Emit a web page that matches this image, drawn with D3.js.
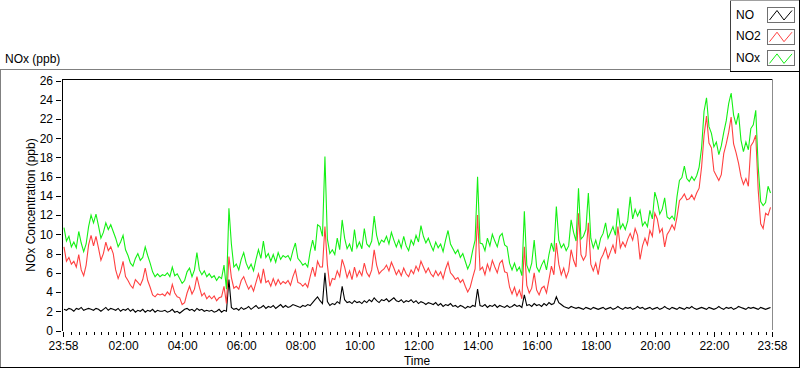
<!DOCTYPE html>
<html>
<head>
<meta charset="utf-8">
<script src="https://cdn.jsdelivr.net/npm/d3@7"></script>
<style>
  body { margin: 0; background: #fff; }
  svg { display: block; font-family: "Liberation Sans", Arial, sans-serif; font-size: 12px; }
</style>
</head>
<body>
<svg id="chart" width="800" height="369"></svg>
<script>
// time axis: one day of 5 minute samples
var startTime = "2020-01-01T23:58:00Z";
var endTime = "2020-01-02T23:58:00Z";
var stepMinutes = 5;

var seriesNames = ["NO", "NO2", "NOx"];
var seriesColors = ["#000000", "#ff4040", "#14f014"];

var yTicks = [0, 2, 4, 6, 8, 10, 12, 14, 16, 18, 20, 22, 24, 26];
var xTickTimes = ["2020-01-01T23:58:00Z", "2020-01-02T02:00:00Z", "2020-01-02T04:00:00Z",
                  "2020-01-02T06:00:00Z", "2020-01-02T08:00:00Z", "2020-01-02T10:00:00Z",
                  "2020-01-02T12:00:00Z", "2020-01-02T14:00:00Z", "2020-01-02T16:00:00Z",
                  "2020-01-02T18:00:00Z", "2020-01-02T20:00:00Z", "2020-01-02T22:00:00Z",
                  "2020-01-02T23:58:00Z"];
var xTickLabels = ["23:58", "02:00", "04:00", "06:00", "08:00", "10:00", "12:00",
                   "14:00", "16:00", "18:00", "20:00", "22:00", "23:58"];

var noValues = [
  2.2, 2.1, 2.3, 2.2, 2.0, 2.3, 2.2, 2.4, 2.1, 2.2,
  2.3, 2.2, 2.1, 2.3, 2.2, 2.0, 2.2, 2.4, 2.1, 2.3,
  2.2, 2.1, 2.3, 2.0, 2.2, 2.1, 2.3, 2.0, 2.2, 1.9,
  2.1, 2.0, 2.2, 1.9, 2.1, 2.0, 2.2, 1.9, 2.1, 2.0,
  2.0, 2.1, 1.9, 2.0, 2.2, 1.9, 2.0, 1.8, 2.0, 2.2,
  2.3, 2.1, 2.2, 2.0, 2.3, 2.1, 2.2, 2.0, 2.1, 2.0,
  2.1, 1.9, 2.0, 2.2, 1.9, 2.1, 2.0, 5.3, 2.4, 2.2,
  2.3, 2.1, 2.4, 2.2, 2.3, 2.5, 2.2, 2.4, 2.6, 2.3,
  2.4, 2.6, 2.3, 2.5, 2.4, 2.6, 2.3, 2.5, 2.7, 2.4,
  2.6, 2.4, 2.5, 2.7, 2.6, 2.5, 2.4, 2.6, 2.5, 2.7,
  2.6, 2.9, 3.2, 3.5, 3.1, 2.8, 6.0, 3.0, 2.6, 2.8,
  2.7, 3.0, 2.8, 4.6, 3.2, 2.9, 3.0, 2.8, 3.1, 2.9,
  3.0, 2.8, 3.1, 2.9, 3.2, 3.0, 3.4, 3.1, 2.9, 3.2,
  3.1, 3.3, 3.0, 3.2, 3.4, 3.1, 3.0, 3.2, 2.9, 3.1,
  3.0, 3.2, 2.9, 3.1, 2.8, 3.0, 2.9, 2.7, 2.9, 2.8,
  2.7, 2.9, 2.6, 2.8, 2.5, 2.7, 2.6, 2.8, 2.5, 2.6,
  2.4, 2.6, 2.5, 2.3, 2.5, 2.4, 2.6, 2.5, 4.3, 2.6,
  2.5, 2.7, 2.4, 2.6, 2.5, 2.7, 2.4, 2.6, 2.5, 2.4,
  2.6, 2.4, 2.5, 2.7, 2.5, 2.6, 2.4, 3.7, 2.6, 2.7,
  2.5, 2.8, 2.6, 2.7, 2.5, 2.8, 2.6, 2.9, 2.7, 2.8,
  3.5, 2.9, 2.7, 2.5, 2.4, 2.3, 2.5, 2.4, 2.3, 2.4,
  2.3, 2.2, 2.4, 2.3, 2.2, 2.4, 2.3, 2.2, 2.3, 2.4,
  2.2, 2.3, 2.4, 2.2, 2.3, 2.5, 2.3, 2.2, 2.4, 2.3,
  2.4, 2.2, 2.3, 2.5, 2.3, 2.4, 2.2, 2.3, 2.4, 2.2,
  2.3, 2.4, 2.2, 2.3, 2.5, 2.3, 2.2, 2.4, 2.3, 2.2,
  2.4, 2.3, 2.2, 2.4, 2.3, 2.5, 2.3, 2.2, 2.3, 2.4,
  2.3, 2.2, 2.4, 2.3, 2.2, 2.3, 2.5, 2.3, 2.2, 2.4,
  2.3, 2.4, 2.2, 2.3, 2.5, 2.4, 2.3, 2.2, 2.4, 2.3,
  2.4, 2.3, 2.2, 2.4, 2.3, 2.2, 2.3, 2.4, 2.2
];

var no2Values = [
  8.7, 7.2, 7.6, 6.9, 7.2, 6.6, 7.9, 6.3, 5.7, 6.8,
  8.9, 9.9, 8.8, 9.8, 8.6, 7.3, 8.0, 9.2, 8.3, 8.7,
  8.0, 6.3, 5.4, 6.1, 7.2, 5.6, 5.2, 4.7, 4.4, 5.3,
  5.0, 4.7, 5.3, 6.5, 5.2, 4.5, 3.7, 3.5, 3.8, 3.7,
  3.8, 3.6, 4.0, 3.7, 4.8, 3.9, 3.5, 3.4, 2.7, 2.9,
  3.9, 4.6, 3.8, 4.3, 5.6, 4.5, 3.6, 3.9, 3.3, 3.6,
  3.3, 3.6, 3.1, 3.4, 3.5, 4.6, 2.8, 7.7, 5.5, 4.4,
  4.6, 4.3, 5.2, 5.6, 4.9, 4.3, 4.7, 4.1, 5.0, 5.9,
  4.9, 6.4, 5.0, 5.2, 4.6, 5.4, 4.7, 5.3, 4.8, 5.1,
  4.9, 5.2, 4.7, 5.6, 6.3, 5.0, 4.9, 4.6, 4.9, 4.5,
  5.6, 6.6, 5.6, 7.2, 6.6, 6.6, 10.8, 6.8, 4.6, 5.4,
  5.3, 6.2, 5.6, 7.4, 6.6, 5.5, 6.2, 5.3, 6.6, 5.6,
  6.2, 5.7, 7.0, 6.0, 5.6, 6.3, 8.4, 6.8, 5.9, 6.2,
  6.4, 6.8, 6.2, 7.1, 6.5, 5.8, 6.3, 5.7, 6.5, 5.9,
  5.6, 6.3, 5.9, 6.7, 6.2, 7.2, 6.6, 6.0, 6.5, 5.9,
  5.6, 6.2, 5.7, 6.1, 5.4, 6.4, 7.1, 6.0, 5.7, 5.3,
  5.5, 5.0, 5.3, 4.6, 4.0, 4.5, 5.5, 6.4, 12.0, 6.3,
  6.6, 5.8, 6.9, 6.2, 7.3, 6.6, 6.0, 7.0, 7.3, 6.1,
  6.0, 4.5, 3.8, 4.5, 3.6, 4.2, 3.3, 8.7, 4.7, 3.9,
  4.4, 6.0, 4.2, 3.7, 4.4, 4.6, 3.9, 5.3, 6.7, 5.8,
  9.1, 6.9, 5.8, 6.5, 5.5, 6.2, 8.4, 7.3, 6.6, 12.2,
  7.9, 7.3, 7.8, 11.2, 6.9, 6.2, 7.0, 5.8, 7.4, 7.9,
  8.6, 7.5, 8.2, 8.9, 8.0, 10.8, 8.6, 9.2, 8.7, 9.5,
  10.1, 9.4, 10.6, 9.9, 7.4, 8.8, 9.6, 8.9, 10.4, 9.8,
  12.2, 11.6, 10.2, 10.6, 8.7, 10.0, 10.4, 11.0, 10.5, 11.8,
  13.5, 13.8, 14.2, 13.6, 13.7, 14.1, 13.6, 14.3, 14.8, 17.0,
  20.3, 22.3, 19.5, 19.0, 16.6, 16.1, 15.6, 16.2, 18.4, 19.4,
  20.6, 22.2, 19.4, 18.5, 17.4, 16.0, 15.2, 15.8, 15.0, 19.2,
  19.6, 20.3, 14.6, 11.1, 10.6, 12.2, 12.0, 12.8, 13.6
];

var noxValues = [
  10.7, 9.3, 9.8, 8.7, 9.2, 8.6, 10.3, 9.1, 8.2, 9.0,
  10.8, 12.0, 11.2, 12.1, 10.9, 9.6, 10.2, 11.2, 10.5, 11.0,
  10.3, 9.6, 8.7, 9.2, 9.9, 8.4, 7.8, 7.0, 6.7, 7.5,
  8.0, 7.3, 7.6, 8.7, 7.8, 7.0, 6.1, 5.6, 5.9, 5.6,
  5.8, 5.7, 6.0, 5.6, 6.6, 5.7, 5.9, 5.4, 4.9, 5.2,
  6.1, 6.5, 5.6, 6.3, 8.1, 6.3, 5.8, 6.2, 5.6, 5.9,
  5.5, 5.7, 5.2, 5.6, 5.4, 6.8, 4.3, 12.7, 9.0, 6.6,
  6.9, 6.3, 7.4, 8.1, 7.0, 6.4, 6.9, 6.2, 7.4, 8.4,
  7.5, 9.3, 7.6, 8.0, 7.2, 7.9, 7.1, 8.1, 7.4, 7.8,
  7.6, 7.8, 7.3, 8.3, 9.1, 7.5, 7.2, 6.8, 7.0, 6.6,
  8.2, 9.4, 8.3, 11.0, 10.8, 9.8, 18.1, 9.5, 8.0, 8.4,
  7.9, 9.6, 8.4, 11.5, 9.6, 8.5, 9.0, 8.2, 10.5, 8.6,
  9.2, 8.5, 10.6, 9.0, 8.7, 9.3, 11.9, 9.9, 8.9, 9.4,
  9.2, 9.8, 9.0, 10.2, 9.4, 8.7, 9.4, 8.6, 9.8, 8.8,
  8.3, 9.4, 8.9, 9.9, 9.2, 10.9, 9.8, 9.1, 9.6, 8.9,
  8.3, 9.2, 8.6, 9.0, 8.2, 9.4, 10.4, 9.0, 8.5, 8.0,
  8.4, 7.6, 8.0, 7.2, 6.4, 7.0, 8.3, 9.4, 16.0, 9.1,
  9.0, 8.3, 9.6, 8.8, 10.0, 9.3, 8.7, 9.8, 10.1, 8.9,
  8.7, 7.0, 6.3, 7.0, 6.2, 6.6, 5.7, 12.4, 6.8, 6.1,
  7.0, 9.4, 6.6, 6.1, 6.8, 7.3, 6.3, 7.9, 9.1, 8.2,
  12.9, 9.4, 8.6, 9.0, 8.3, 8.8, 11.5, 10.2, 9.3, 14.8,
  9.5, 9.8, 10.5, 14.3, 9.6, 8.6, 9.4, 8.4, 9.6, 10.1,
  11.2, 9.6, 10.2, 10.8, 9.9, 12.7, 10.6, 11.1, 10.5, 11.4,
  13.9, 11.6, 12.6, 11.9, 12.5, 10.9, 11.3, 10.8, 12.5, 11.6,
  14.4, 13.5, 12.1, 12.6, 13.8, 11.8, 11.6, 11.9, 11.5, 13.9,
  15.6, 15.9, 17.1, 15.8, 15.5, 16.0, 15.6, 16.1, 17.0, 19.0,
  22.8, 24.2, 21.2, 20.5, 19.1, 19.6, 18.3, 19.2, 20.6, 21.8,
  23.6, 24.7, 22.4, 21.4, 22.6, 19.8, 18.6, 19.6, 18.8, 21.0,
  21.4, 22.9, 17.0, 13.4, 13.0, 13.3, 15.0, 14.3, 15.6
];

var svg = d3.select("#chart");

//scales
var t0 = new Date(startTime), t1 = new Date(endTime);
var xScale = d3.scaleUtc()
                .domain([t0, t1])
                .range([63, 772]);
var yScale = d3.scaleLinear()
                .domain([0, 26])
                .range([330.5, 80.5]);

var times = d3.utcMinute.every(stepMinutes).range(t0, d3.utcMinute.offset(t1, 1));
var allValues = [noValues, no2Values, noxValues];
var series = allValues.map(function(vals){
  return times.map(function(t, i){ return {t: t, v: vals[i]}; });
});

//outer frame
var frame = svg.append("g").attr("shape-rendering", "crispEdges");
frame.append("line").attr("x1", 0).attr("x2", 731).attr("y1", 69.5).attr("y2", 69.5).attr("stroke", "#808080");
frame.append("line").attr("x1", 0.5).attr("x2", 0.5).attr("y1", 69).attr("y2", 368).attr("stroke", "#808080");
frame.append("line").attr("x1", 0).attr("x2", 800).attr("y1", 367.5).attr("y2", 367.5).attr("stroke", "#000");
frame.append("line").attr("x1", 799.5).attr("x2", 799.5).attr("y1", 72).attr("y2", 368).attr("stroke", "#000");

svg.append("text")
    .attr("x", 5)
    .attr("y", 63)
    .text("NOx (ppb)");

//plot area
svg.append("defs").append("clipPath")
    .attr("id", "plotclip")
    .append("rect")
    .attr("x", 63).attr("y", 79.5)
    .attr("width", 709).attr("height", 252);

var lineGen = d3.line()
                .x(function(d){ return xScale(d.t); })
                .y(function(d){ return yScale(d.v); });

svg.append("g")
    .attr("id", "lines")
    .attr("clip-path", "url(#plotclip)")
    .selectAll("path")
    .data(series)
    .enter()
    .append("path")
    .attr("d", lineGen)
    .attr("fill", "none")
    .attr("stroke-width", 1.1)
    .attr("stroke-linejoin", "miter")
    .attr("stroke", function(d, i){ return seriesColors[i]; });

var border = svg.append("g").attr("shape-rendering", "crispEdges");
border.append("line").attr("x1", 62).attr("x2", 773).attr("y1", 79.5).attr("y2", 79.5).attr("stroke", "#000");
border.append("line").attr("x1", 62.5).attr("x2", 62.5).attr("y1", 79).attr("y2", 331).attr("stroke", "#000");
border.append("line").attr("x1", 772.5).attr("x2", 772.5).attr("y1", 79).attr("y2", 330).attr("stroke", "#8c8c8c");

//y axis
var yAxis = d3.axisLeft(yScale)
              .tickValues(yTicks)
              .tickSize(5)
              .tickPadding(3)
              .tickFormat(d3.format("d"));
var yx = svg.append("g")
            .attr("transform", "translate(61, 0)")
            .attr("id", "yaxis")
            .call(yAxis);
yx.select(".domain").remove();
yx.selectAll("line").attr("stroke", "#000").attr("shape-rendering", "crispEdges");
yx.selectAll("text").attr("font-size", 12).attr("font-family", "Liberation Sans, Arial, sans-serif").attr("fill", "#000");

//x axis, minor ticks every 15 min
var majorTimes = xTickTimes.map(function(s){ return new Date(s); });
var minorTimes = d3.utcMinute.every(15).range(t0, t1).filter(function(t){
  return t.getUTCMinutes() != 0 || t.getUTCHours() % 2 != 0;
}).filter(function(t){ return t > t0; });

var xMinor = d3.axisBottom(xScale)
               .tickValues(minorTimes)
               .tickSize(3)
               .tickFormat("");
var xMajor = d3.axisBottom(xScale)
               .tickValues(majorTimes)
               .tickSize(5)
               .tickPadding(4)
               .tickFormat(function(d, i){ return xTickLabels[i]; });

var xm = svg.append("g").attr("transform", "translate(0, 332)").call(xMinor);
var xx = svg.append("g").attr("transform", "translate(0, 332)").attr("id", "xaxis").call(xMajor);
xm.select(".domain").remove();
xx.select(".domain").remove();
xm.selectAll("line").attr("shape-rendering", "crispEdges");
xx.selectAll("line").attr("shape-rendering", "crispEdges");
xx.selectAll("text").attr("font-size", 12).attr("font-family", "Liberation Sans, Arial, sans-serif").attr("fill", "#000");

//axis titles
svg.append("text")
    .attr("x", 417)
    .attr("y", 365)
    .attr("text-anchor", "middle")
    .text("Time");
svg.append("text")
    .attr("transform", "translate(35, 205) rotate(-90)")
    .attr("text-anchor", "middle")
    .text("NOx Concentration (ppb)");

//legend
var legend = svg.append("g").attr("id", "legend").attr("shape-rendering", "crispEdges");
legend.append("rect").attr("x", 731).attr("y", 0).attr("width", 69).attr("height", 72).attr("fill", "#fff");
legend.append("line").attr("x1", 730.5).attr("x2", 730.5).attr("y1", 0).attr("y2", 72).attr("stroke", "#404040");
legend.append("line").attr("x1", 730).attr("x2", 800).attr("y1", 71.5).attr("y2", 71.5).attr("stroke", "#000");
legend.append("line").attr("x1", 730).attr("x2", 800).attr("y1", 0.5).attr("y2", 0.5).attr("stroke", "#a0a0a0");
legend.append("line").attr("x1", 799.5).attr("x2", 799.5).attr("y1", 0).attr("y2", 72).attr("stroke", "#000");

var zig = [[1.5, 12], [9, 2.5], [16, 12], [24, 2.5]];
var rows = legend.selectAll("g.item")
                 .data(seriesNames)
                 .enter()
                 .append("g")
                 .attr("class", "item")
                 .attr("transform", function(d, i){ return "translate(0," + (i * 21.7) + ")"; });
rows.append("text")
    .attr("x", 736)
    .attr("y", 18.5)
    .attr("shape-rendering", "auto")
    .text(function(d){ return d; });
rows.append("rect")
    .attr("x", 767.5).attr("y", 7.5)
    .attr("width", 27).attr("height", 15)
    .attr("fill", "#fff")
    .attr("stroke", "#707070");
rows.append("path")
    .attr("d", function(){ return d3.line()(zig.map(function(p){ return [768 + p[0], 8 + p[1]]; })); })
    .attr("fill", "none")
    .attr("shape-rendering", "auto")
    .attr("stroke", function(d, i){ return seriesColors[i]; });
</script>
</body>
</html>
